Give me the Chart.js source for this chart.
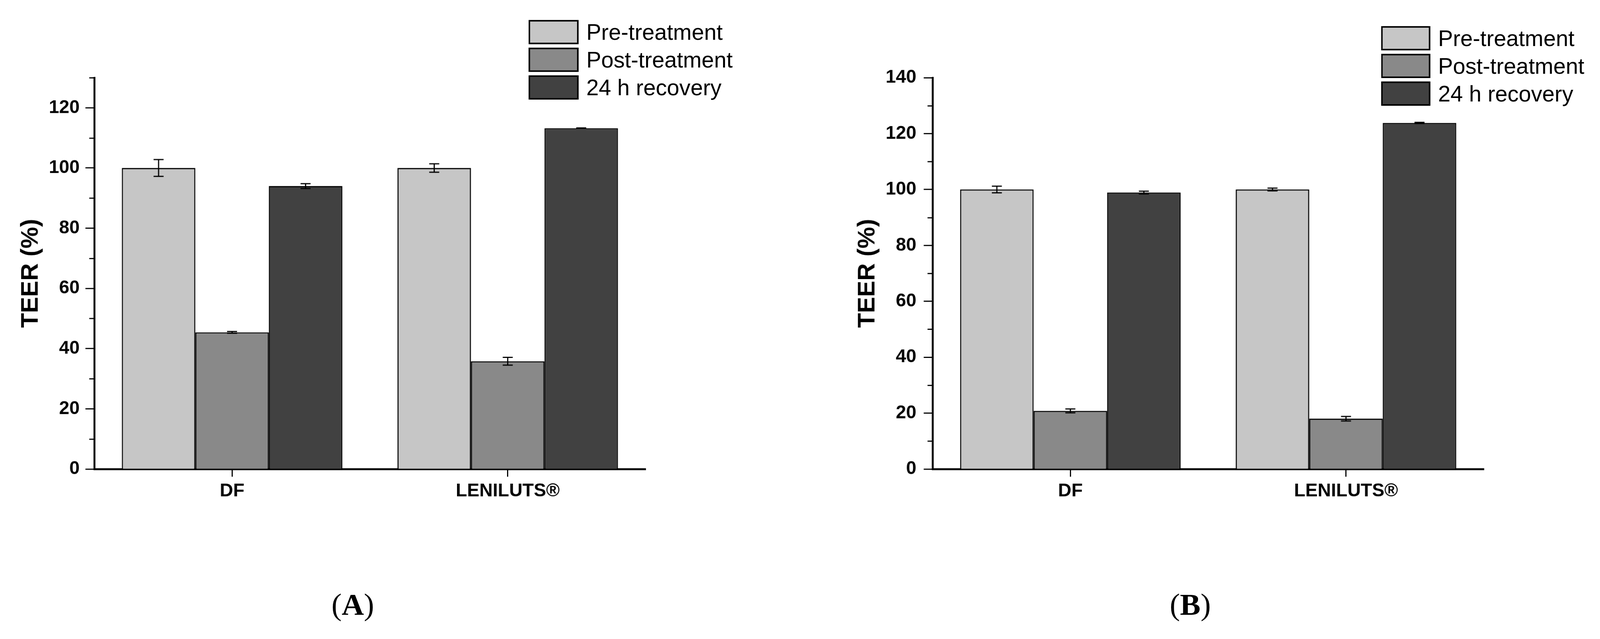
<!DOCTYPE html>
<html>
<head>
<meta charset="utf-8">
<script src="https://cdn.jsdelivr.net/npm/chart.js@4"></script>
<style>
  html, body { margin: 0; padding: 0; background: #fff; overflow: hidden; }
  #wrap { position: absolute; left: 0; top: 0; width: 4159px; height: 1637px; overflow: hidden; background: #fff; transform-origin: 0 0; }
  canvas { position: absolute; top: 0; }
  .lg-box { position: absolute; box-sizing: border-box; border: 4px solid #000; }
  .lg-txt { position: absolute; font-family: "Liberation Sans", Arial, sans-serif; font-size: 58px; color: #000; white-space: nowrap; line-height: 63px; }
  .panel-lbl { position: absolute; font-family: "Liberation Serif", "Times New Roman", serif; font-size: 80px; color: #000; transform: translate(-50%, -50%); white-space: nowrap; }
</style>
</head>
<body>
<div id="wrap">
  <canvas id="cA" width="2080" height="1637" style="left:0px"></canvas>
  <canvas id="cB" width="2079" height="1637" style="left:2080px"></canvas>
</div>
<script>
// ---------- DATA ----------
const categories = ['DF', 'LENILUTS®'];
const seriesLabels = ['Pre-treatment', 'Post-treatment', '24 h recovery'];
const seriesColors = ['#c6c6c6', '#898989', '#414141'];
const yTitle = 'TEER (%)';

// Panel A
const A_pre = [100, 100];
const A_post = [45.4, 35.8];
const A_rec = [94.0, 113.2];
const A_pre_err = [2.8, 1.4];
const A_post_err = [0.3, 1.3];
const A_rec_err = [0.8, 0.1];
const A_yMax = 130;

// Panel B
const B_pre = [100, 100];
const B_post = [20.8, 18.0];
const B_rec = [98.9, 123.8];
const B_pre_err = [1.2, 0.5];
const B_post_err = [0.7, 0.8];
const B_rec_err = [0.5, 0.2];
const B_yMax = 140;

const panelLabels = ['A', 'B'];

// fit the 4159x1637 drawing to the actual viewport (uniform scale)
(function fitWrap() {
  const w = document.getElementById('wrap');
  const sx = (window.innerWidth || 4159) / 4159;
  const sy = (window.innerHeight || 1637) / 1637;
  const s = Math.min(sx, sy);
  if (Math.abs(s - 1) > 0.001) {
    w.style.transform = 'scale(' + s + ')';
  }
})();

// ---------- PLUGINS ----------
const errorBarPlugin = {
  id: 'errorBars',
  afterDatasetsDraw(chart) {
    const ctx = chart.ctx;
    const yScale = chart.scales.y;
    ctx.save();
    ctx.strokeStyle = '#000';
    ctx.lineWidth = 3;
    chart.data.datasets.forEach((ds, di) => {
      const meta = chart.getDatasetMeta(di);
      meta.data.forEach((bar, i) => {
        const v = ds.data[i], e = ds.errors[i];
        if (!e) return;
        const yt = yScale.getPixelForValue(v + e);
        const yb = yScale.getPixelForValue(v - e);
        const half = 13;
        ctx.beginPath();
        ctx.moveTo(bar.x, yt); ctx.lineTo(bar.x, yb);
        ctx.moveTo(bar.x - half, yt); ctx.lineTo(bar.x + half, yt);
        ctx.moveTo(bar.x - half, yb); ctx.lineTo(bar.x + half, yb);
        ctx.stroke();
      });
    });
    ctx.restore();
  }
};

const minorTickPlugin = {
  id: 'minorTicks',
  afterDraw(chart) {
    const ctx = chart.ctx;
    const y = chart.scales.y;
    const x0 = chart.chartArea.left;
    ctx.save();
    ctx.strokeStyle = '#000';
    ctx.lineWidth = 3;
    for (let v = 10; v <= y.max; v += 20) {
      const py = Math.round(y.getPixelForValue(v)) + 0.5;
      ctx.beginPath();
      ctx.moveTo(x0 - 13, py); ctx.lineTo(x0, py);
      ctx.stroke();
    }
    ctx.restore();
  }
};

// ---------- BUILD ----------
function makeChart(canvasId, values, errors, yMax, layout) {
  const datasets = seriesLabels.map((lab, i) => ({
    label: lab,
    data: values[i],
    errors: errors[i],
    backgroundColor: seriesColors[i],
    borderColor: '#000',
    borderWidth: 3,
    categoryPercentage: 0.8,
    barPercentage: 1.0
  }));
  return new Chart(document.getElementById(canvasId), {
    type: 'bar',
    data: { labels: categories, datasets },
    options: {
      responsive: false,
      animation: false,
      devicePixelRatio: 1,
      layout: { padding: layout.padding },
      plugins: { legend: { display: false }, tooltip: { enabled: false } },
      scales: {
        x: {
          grid: { display: true, drawOnChartArea: false, offset: false, tickLength: 20, tickWidth: 3, tickColor: '#000' },
          border: { display: true, width: 5, color: '#000' },
          ticks: { color: '#000', padding: 9, font: { family: 'Liberation Sans', weight: 'bold', size: 48 } },
          afterFit(scale) { scale.height = layout.xHeight; }
        },
        y: {
          min: 0, max: yMax,
          grid: {
            display: true, drawOnChartArea: false, tickLength: 23, tickWidth: 3,
            tickColor: (c) => (c.tick && c.tick.value % 20 === 0) ? '#000' : 'rgba(0,0,0,0)'
          },
          border: { display: true, width: 5, color: '#000' },
          ticks: {
            stepSize: 10, color: '#000', padding: layout.tickPad,
            font: { family: 'Liberation Sans', weight: 'bold', size: 48 },
            callback: (v) => (v % 20 === 0 ? String(v) : '')
          },
          title: {
            display: true, text: yTitle, color: '#000',
            font: { family: 'Liberation Sans', weight: 'bold', size: 63 },
            padding: { top: 43, bottom: 0 }
          },
          afterFit(scale) { scale.width = layout.yWidth; }
        }
      }
    },
    plugins: [errorBarPlugin, minorTickPlugin]
  });
}

makeChart('cA', [A_pre, A_post, A_rec], [A_pre_err, A_post_err, A_rec_err], A_yMax,
  { padding: { left: 0, right: 402, top: 202, bottom: 267 }, xHeight: 150, yWidth: 245, tickPad: 15 });
makeChart('cB', [B_pre, B_post, B_rec], [B_pre_err, B_post_err, B_rec_err], B_yMax,
  { padding: { left: 95, right: 302, top: 202, bottom: 267 }, xHeight: 150, yWidth: 249, tickPad: 19 });

// ---------- LEGENDS & PANEL LABELS ----------
const wrap = document.getElementById('wrap');
function makeLegend(left, top, boxW, boxH, step) {
  seriesLabels.forEach((lab, i) => {
    const b = document.createElement('div');
    b.className = 'lg-box';
    b.style.left = left + 'px';
    b.style.top = (top + i * step) + 'px';
    b.style.width = boxW + 'px';
    b.style.height = boxH + 'px';
    b.style.background = seriesColors[i];
    wrap.appendChild(b);
    const t = document.createElement('div');
    t.className = 'lg-txt';
    t.textContent = lab;
    t.style.left = (left + boxW + 20) + 'px';
    t.style.top = (top + i * step) + 'px';
    wrap.appendChild(t);
  });
}
makeLegend(1374, 52, 130, 63, 72);
makeLegend(3590, 68, 128, 63, 72);

function makePanelLabel(letter, cx, cy) {
  const d = document.createElement('div');
  d.className = 'panel-lbl';
  d.style.left = cx + 'px';
  d.style.top = cy + 'px';
  d.innerHTML = '(<b>' + letter + '</b>)';
  wrap.appendChild(d);
}
makePanelLabel(panelLabels[0], 917, 1573);
makePanelLabel(panelLabels[1], 3094, 1573);
</script>
</body>
</html>
